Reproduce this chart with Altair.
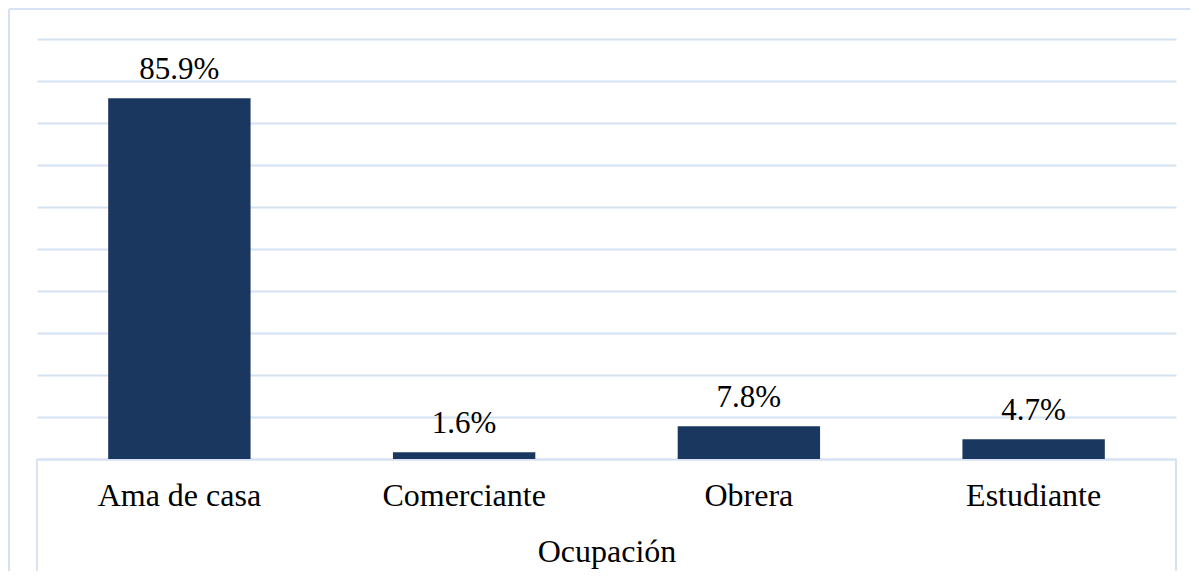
import altair as alt
import pandas as pd

categories = ["Ama de casa", "Comerciante", "Obrera", "Estudiante"]
values = [85.9, 1.6, 7.8, 4.7]
labels = ["85.9%", "1.6%", "7.8%", "4.7%"]

df = pd.DataFrame({"cat": categories, "val": values, "lab": labels})

W, H = 1139, 420
GRID = "#d6e1f2"
BAR = "#1a3760"
FONT = "Liberation Serif"

x_enc = alt.X("cat:N", sort=categories,
              scale=alt.Scale(paddingInner=0.5, paddingOuter=0.25),
              axis=alt.Axis(title="Ocupación", labelAngle=0, ticks=False,
                            domainColor=GRID, domainWidth=2,
                            labelFont=FONT, labelFontSize=32, labelColor="black",
                            labelPadding=21, titleFont=FONT, titleFontSize=32,
                            titleFontWeight="normal", titleColor="black",
                            titlePadding=25))
y_enc = alt.Y("val:Q", scale=alt.Scale(domain=[0, 100]),
              axis=alt.Axis(title=None, labels=False, ticks=False, domain=False,
                            grid=True, gridColor=GRID, gridWidth=2,
                            values=list(range(0, 101, 10))))

bars = alt.Chart(df).mark_bar(color=BAR).encode(x=x_enc, y=y_enc)
texts = alt.Chart(df).mark_text(font=FONT, fontSize=31, color="black",
                                baseline="alphabetic", dy=-19).encode(
    x=alt.X("cat:N", sort=categories), y="val:Q", text="lab:N")

one = pd.DataFrame({"k": [0]})
edge_l = alt.Chart(one).mark_rule(color=GRID, strokeWidth=2).encode(
    x=alt.value(0), y=alt.value(H), y2=alt.value(H + 112))
edge_r = alt.Chart(one).mark_rule(color=GRID, strokeWidth=2).encode(
    x=alt.value(W), y=alt.value(H), y2=alt.value(H + 112))
border_l = alt.Chart(one).mark_rule(color=GRID, strokeWidth=2).encode(
    x=alt.value(-28), y=alt.value(-30), y2=alt.value(H + 112))
border_t = alt.Chart(one).mark_rule(color=GRID, strokeWidth=2).encode(
    x=alt.value(-28), x2=alt.value(W + 14), y=alt.value(-30))

chart = alt.layer(bars, texts, edge_l, edge_r, border_l, border_t).properties(
    width=W, height=H,
    autosize=alt.AutoSizeParams(type="none"),
    padding={"left": 29, "top": 31, "right": 14, "bottom": 112},
    background="white",
).configure_view(stroke=None)

chart.save("out.html", embed_options={"renderer": "svg", "actions": False})
